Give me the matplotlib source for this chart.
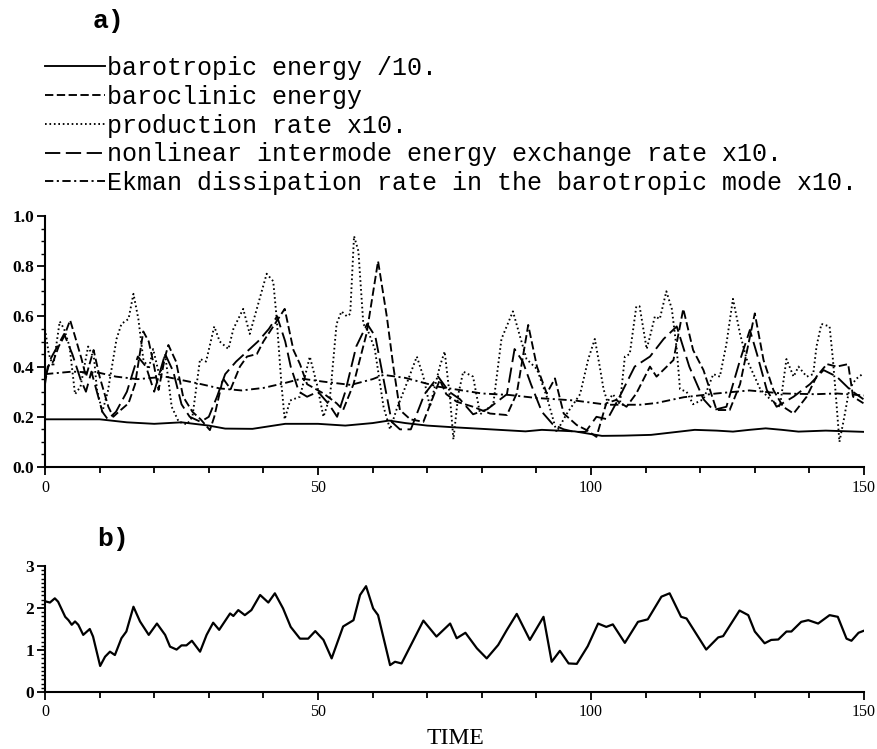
import matplotlib
matplotlib.use("Agg")
import matplotlib.pyplot as plt
from matplotlib.ticker import MultipleLocator, FixedLocator

# ---------------- data ----------------
t_barotropic = [0, 5, 10, 15, 20, 25, 30, 33, 38, 44, 50, 55, 60, 63, 66, 70, 75, 80,
                88, 91, 97, 102, 106, 111, 115, 119, 123, 126, 129, 132, 135, 138, 143, 150]
barotropic = [0.19, 0.19, 0.19, 0.178, 0.172, 0.178, 0.165, 0.153, 0.152, 0.172, 0.172,
              0.165, 0.175, 0.185, 0.175, 0.165, 0.158, 0.152, 0.142, 0.148, 0.142, 0.124,
              0.125, 0.128, 0.138, 0.148, 0.145, 0.141, 0.148, 0.154, 0.148, 0.141, 0.145, 0.14]

t_ekman = [0, 5, 10, 13, 17, 22, 28, 32, 36, 40, 44, 47, 51, 56, 60, 62, 66, 72, 80, 85,
           90, 97, 103, 109, 112, 117, 123, 129, 135, 141, 145, 150]
ekman = [0.37, 0.38, 0.375, 0.36, 0.35, 0.36, 0.333, 0.313, 0.305, 0.315, 0.335, 0.352,
         0.34, 0.327, 0.35, 0.367, 0.355, 0.32, 0.293, 0.287, 0.275, 0.265, 0.248, 0.248,
         0.255, 0.278, 0.293, 0.305, 0.293, 0.29, 0.293, 0.285]

t_baroclinic = [0, 0.5, 1.5, 2.5, 3.5, 4.6, 5.5, 6.7, 7.5, 8.9, 10, 11.6, 12.5, 13.5, 15.3,
                16.5, 18, 19, 20, 20.8, 22, 22.6, 24, 25.3, 27, 28.5, 30.2, 31, 32.6, 34,
                35.7, 37, 38.8, 40, 41.8, 43.9, 45.5, 46.7, 48, 51, 53.4, 54.6, 56.5, 58.9,
                61, 62.6, 63.8, 65, 66.9, 69.3, 71.1, 72.3, 73.5, 75.4, 78.4, 81.5, 84.6,
                86.4, 88.5, 90.1, 91.9, 93.4, 95, 97.4, 99.2, 101, 102.8, 104.6, 106.5,
                108.3, 110.8, 112, 115.1, 116.9, 118.7, 120.6, 123, 125.4, 127.3, 130,
                131.6, 133.4, 135.2, 137.1, 139.5, 141.3, 143.2, 145, 147.1, 148, 149.9]
baroclinic = [0.33, 0.40, 0.42, 0.48, 0.52, 0.585, 0.52, 0.43, 0.36, 0.466, 0.36, 0.24,
              0.20, 0.22, 0.254, 0.33, 0.54, 0.50, 0.40, 0.307, 0.44, 0.486, 0.42, 0.28,
              0.22, 0.19, 0.147, 0.20, 0.353, 0.31, 0.40, 0.44, 0.45, 0.50, 0.56, 0.63,
              0.466, 0.41, 0.33, 0.293, 0.254, 0.227, 0.33, 0.532, 0.82, 0.60, 0.40, 0.227,
              0.19, 0.18, 0.28, 0.347, 0.29, 0.26, 0.24, 0.213, 0.207, 0.293, 0.566, 0.40,
              0.293, 0.353, 0.213, 0.167, 0.147, 0.12, 0.254, 0.267, 0.24, 0.293, 0.40,
              0.36, 0.426, 0.63, 0.466, 0.386, 0.227, 0.227, 0.33, 0.612, 0.426, 0.307,
              0.24, 0.213, 0.28, 0.36, 0.41, 0.40, 0.41, 0.28, 0.254]

t_nonlinear = [0, 1, 2, 3.5, 5, 6.5, 7.5, 8.5, 9.5, 10.5, 11.5, 13, 15, 17, 18.5, 20, 22,
               23.5, 25, 26.5, 28.5, 30, 31.5, 33, 35, 37, 39, 41, 42.5, 44, 45, 46.5, 48,
               50, 52, 53.5, 55, 57, 59, 60.5, 62, 63.5, 65, 67, 69.5, 72, 74, 76, 78.4, 81,
               84.6, 86, 87.5, 89, 91, 93, 95, 97, 99, 101, 103, 105, 108, 110.8, 113.3,
               115.7, 118, 120.6, 122.4, 124.8, 127.3, 129.1, 130.4, 132.2, 134, 137.1,
               140.1, 142.6, 145, 147.5, 149.9]
nonlinear = [0.35, 0.43, 0.47, 0.53, 0.45, 0.35, 0.30, 0.38, 0.30, 0.22, 0.19, 0.22, 0.30,
             0.44, 0.40, 0.30, 0.45, 0.38, 0.25, 0.20, 0.18, 0.20, 0.28, 0.37, 0.42, 0.46,
             0.50, 0.55, 0.60, 0.50, 0.40, 0.30, 0.28, 0.30, 0.25, 0.20, 0.30, 0.48, 0.57,
             0.52, 0.35, 0.18, 0.15, 0.15, 0.29, 0.36, 0.30, 0.27, 0.21, 0.23, 0.29, 0.47,
             0.42, 0.33, 0.22, 0.17, 0.15, 0.14, 0.14, 0.20, 0.19, 0.27, 0.40, 0.44, 0.51,
             0.56, 0.40, 0.27, 0.227, 0.24, 0.426, 0.546, 0.45, 0.307, 0.24, 0.28, 0.33,
             0.386, 0.36, 0.307, 0.27]

t_production = [0, 0.7, 1.5, 2.7, 3.5, 4.5, 5.5, 6.5, 7.9, 9, 9.5, 10.5, 11.5, 13.1, 14,
                15.3, 16.2, 17.1, 18, 19, 19.8, 21, 22, 23.2, 24.5, 26, 27, 28.4, 29.5, 31,
                32, 33.6, 34.5, 36.3, 37.5, 38.8, 40.6, 41.8, 42.4, 43.3, 43.9, 44.9, 46.7,
                48.5, 49.8, 51, 52.2, 53.4, 54.3, 55.3, 55.9, 56.6, 57.4, 58.3, 59.2, 60.4,
                62, 63.2, 64.4, 66.2, 68.1, 69.3, 70.5, 72.3, 73.2, 74.2, 74.8, 75.7, 76.6,
                78.4, 79.7, 80.9, 82.1, 83.6, 85.7, 87, 88.2, 90.1, 91.9, 93.7, 95.5, 98,
                99.5, 100.7, 101.6, 102.3, 103, 104, 105.3, 106.2, 107.1, 108.3, 108.9,
                110.2, 110.8, 111.7, 112.6, 113.8, 114.8, 115.7, 116.3, 117.5, 118.7, 120.6,
                122.4, 123.6, 124.8, 126, 127.3, 128.5, 131, 132.8, 134.6, 135.8, 137.1, 138,
                139.5, 140.7, 141.3, 142.2, 143.7, 144.3, 144.9, 145.5, 146.4, 147.3, 148.5,
                149.7]
production = [0.55, 0.45, 0.40, 0.58, 0.55, 0.48, 0.29, 0.32, 0.48, 0.43, 0.31, 0.22, 0.30,
              0.51, 0.57, 0.59, 0.69, 0.59, 0.43, 0.39, 0.47, 0.36, 0.45, 0.24, 0.18, 0.17,
              0.20, 0.43, 0.42, 0.56, 0.50, 0.47, 0.55, 0.63, 0.53, 0.63, 0.77, 0.74, 0.60,
              0.33, 0.19, 0.265, 0.28, 0.44, 0.33, 0.20, 0.28, 0.57, 0.62, 0.60, 0.61, 0.92,
              0.86, 0.57, 0.54, 0.47, 0.24, 0.15, 0.23, 0.33, 0.44, 0.36, 0.24, 0.40, 0.46,
              0.27, 0.11, 0.29, 0.38, 0.36, 0.21, 0.23, 0.25, 0.51, 0.62, 0.52, 0.43, 0.39,
              0.28, 0.14, 0.21, 0.29, 0.43, 0.51, 0.40, 0.31, 0.26, 0.29, 0.25, 0.44, 0.45,
              0.64, 0.64, 0.47, 0.52, 0.60, 0.59, 0.70, 0.63, 0.47, 0.31, 0.30, 0.25, 0.27,
              0.37, 0.36, 0.49, 0.67, 0.53, 0.43, 0.31, 0.27, 0.24, 0.43, 0.36, 0.40, 0.36,
              0.37, 0.48, 0.57, 0.56, 0.43, 0.27, 0.10, 0.20, 0.31, 0.35, 0.37]

t_b = [0.3, 0.9, 1.8, 2.4, 3.7, 4.3, 4.9, 5.5, 6.1, 7.0, 8.2, 8.8, 10.1, 11.0, 11.9, 12.8,
       14.0, 14.9, 16.2, 17.4, 19.0, 20.5, 22.0, 22.9, 24.1, 25.0, 25.9, 26.9, 28.4, 29.6,
       30.8, 31.9, 33.9, 34.5, 35.4, 36.6, 37.8, 39.4, 40.9, 42.1, 43.6, 45.0, 46.7, 48.2,
       49.5, 51.0, 52.5, 54.6, 56.5, 57.7, 58.8, 60.1, 61.0, 63.2, 64.1, 65.3, 67.5, 69.3,
       71.7, 74.2, 75.4, 77.0, 79.1, 80.9, 83.0, 84.6, 86.4, 88.8, 91.3, 92.8, 94.3, 95.9,
       97.4, 99.4, 101.3, 102.8, 104.0, 106.2, 108.6, 110.4, 112.9, 114.4, 116.5, 117.5,
       121.1, 123.3, 124.2, 127.2, 128.8, 130.0, 131.8, 133.0, 134.3, 135.8, 136.7, 138.5,
       139.8, 141.6, 143.7, 145.2, 146.8, 147.7, 149.0, 150.0]
series_b = [2.15, 2.13, 2.23, 2.15, 1.79, 1.71, 1.60, 1.68, 1.60, 1.36, 1.50, 1.32, 0.62,
            0.84, 0.96, 0.88, 1.28, 1.44, 2.03, 1.68, 1.36, 1.63, 1.36, 1.08, 1.01, 1.11,
            1.11, 1.22, 0.96, 1.36, 1.65, 1.48, 1.87, 1.81, 1.95, 1.83, 1.95, 2.31, 2.13,
            2.35, 1.99, 1.55, 1.27, 1.27, 1.45, 1.24, 0.80, 1.56, 1.71, 2.31, 2.52, 1.99,
            1.83, 0.64, 0.72, 0.68, 1.24, 1.70, 1.32, 1.63, 1.28, 1.41, 1.04, 0.80, 1.12,
            1.48, 1.86, 1.24, 1.79, 0.72, 0.98, 0.68, 0.67, 1.09, 1.63, 1.55, 1.61, 1.17,
            1.67, 1.73, 2.27, 2.35, 1.79, 1.75, 1.01, 1.30, 1.33, 1.94, 1.83, 1.44, 1.16,
            1.24, 1.25, 1.44, 1.44, 1.67, 1.71, 1.63, 1.83, 1.79, 1.27, 1.22, 1.41, 1.46]

labels = ["barotropic energy /10.",
          "baroclinic energy",
          "production rate x10.",
          "nonlinear intermode energy exchange rate x10.",
          "Ekman dissipation rate in the barotropic mode x10."]

x_ticks = [0, 50, 100, 150]
x_ticklabels = ['0', '50', '100', '150']
ya_ticks = [0.0, 0.2, 0.4, 0.6, 0.8, 1.0]
ya_ticklabels = ['0.0', '0.2', '0.4', '0.6', '0.8', '1.0']
yb_ticks = [0, 1, 2, 3]
yb_ticklabels = ['0', '1', '2', '3']

# ---------------- figure ----------------
plt.rcParams['lines.scale_dashes'] = False
W, H = 878, 749
fig = plt.figure(figsize=(W / 100, H / 100), dpi=100)

def ax_rect(x0, y0, x1, y1):
    return [x0 / W, 1 - y1 / H, (x1 - x0) / W, (y1 - y0) / H]

ax1 = fig.add_axes(ax_rect(45, 216, 864, 467))
ax2 = fig.add_axes(ax_rect(45, 566, 864, 692))

lw = 1.35
h1, = ax1.plot(t_barotropic, barotropic, color='black', lw=lw, ls='-')
h2, = ax1.plot(t_baroclinic, baroclinic, color='black', lw=lw, ls=(0, (6, 2.5)))
h3, = ax1.plot(t_production, production, color='black', lw=lw, ls=(0, (1.2, 2.0)))
h4, = ax1.plot(t_nonlinear, nonlinear, color='black', lw=lw, ls=(0, (11, 4)))
h5, = ax1.plot(t_ekman, ekman, color='black', lw=lw, ls=(0, (6, 2.5, 1.5, 2.5)))

ax2.plot(t_b, series_b, color='black', lw=1.6)

serif = 'Liberation Serif'
for ax in (ax1, ax2):
    ax.set_xlim(0, 150)
    for s in ('top', 'right'):
        ax.spines[s].set_visible(False)
    for s in ('left', 'bottom'):
        ax.spines[s].set_linewidth(1.5)
    ax.xaxis.set_minor_locator(MultipleLocator(10))
    ax.set_xticks(x_ticks)
    ax.set_xticklabels(x_ticklabels, fontfamily=serif, fontsize=11.5)
    ax.tick_params(axis='x', which='major', direction='out', length=6, width=1.3, pad=3)
    ax.tick_params(axis='x', which='minor', direction='out', length=4, width=1.3)
    ax.tick_params(axis='y', which='major', direction='out', length=6, width=1.3, pad=2)
    ax.tick_params(axis='y', which='minor', direction='out', length=3, width=1.0)

ax1.set_ylim(0, 1.0)
ax1.yaxis.set_minor_locator(MultipleLocator(0.05))
ax1.set_yticks(ya_ticks)
ax1.set_yticklabels(ya_ticklabels, fontfamily=serif, fontweight='bold', fontsize=12.5)

ax2.set_ylim(0, 3)
ax2.yaxis.set_minor_locator(MultipleLocator(0.1))
ax2.set_yticks(yb_ticks)
ax2.set_yticklabels(yb_ticklabels, fontfamily=serif, fontweight='bold', fontsize=12.5)

# panel labels
fig.text(93 / W, 1 - 21 / H, 'a)', fontfamily='Liberation Mono', fontweight='bold',
         fontsize=19, ha='left', va='center')
fig.text(97 / W, 1 - 539 / H, 'b)', fontfamily='Liberation Mono', fontweight='bold',
         fontsize=19, ha='left', va='center')

# legend
leg = fig.legend([h1, h2, h3, h4, h5], labels, loc='upper left',
                 bbox_to_anchor=(45 / W, 1 - 56 / H), frameon=False, borderpad=0,
                 borderaxespad=0, handlelength=2.4, handletextpad=0.1,
                 labelspacing=0.19, prop={'family': 'Liberation Mono', 'size': 18})

fig.text(455 / W, 1 - 739 / H, 'TIME', fontfamily=serif, fontsize=17,
         ha='center', va='center')

fig.savefig('out.png', dpi=100)
